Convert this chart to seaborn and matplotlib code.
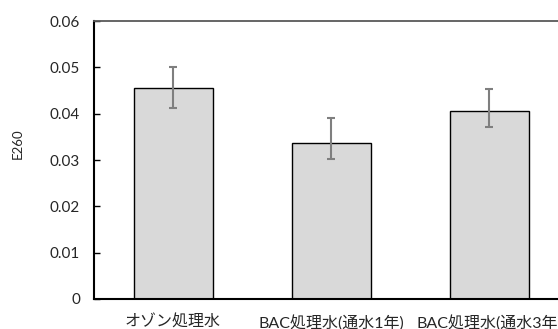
import matplotlib
matplotlib.use("Agg")
import matplotlib.pyplot as plt
import seaborn as sns
import pandas as pd
import numpy as np

categories = ["オゾン処理水", "BAC処理水(通水1年)", "BAC処理水(通水3年)"]
values = [0.0456, 0.0337, 0.0406]
err_low = [0.0043, 0.0035, 0.0034]
err_high = [0.0045, 0.0054, 0.0047]
y_ticks = [0, 0.01, 0.02, 0.03, 0.04, 0.05, 0.06]
y_tick_labels = ["0", "0.01", "0.02", "0.03", "0.04", "0.05", "0.06"]

sns.set_style("white")
plt.rcParams["font.family"] = ["Lato", "Noto Sans CJK JP", "DejaVu Sans"]

df = pd.DataFrame({"sample": categories, "E260": values})

fig = plt.figure(figsize=(5.58, 3.29), dpi=100)
ax = fig.add_axes([94 / 558, 1 - 299 / 329, 474 / 558, 278 / 329])

sns.barplot(data=df, x="sample", y="E260", order=categories, color="#d9d9d9",
            edgecolor="black", linewidth=1.0, width=0.5, errorbar=None,
            saturation=1, ax=ax)
ax.errorbar(np.arange(len(categories)), values, yerr=[err_low, err_high],
            fmt="none", ecolor="#7f7f7f", elinewidth=1.5, capsize=3,
            capthick=1.5, zorder=3)

ax.set_xlim(-0.5, 2.5)
ax.set_ylim(0, 0.06)
ax.set_yticks(y_ticks)
ax.set_yticklabels(y_tick_labels)
ax.tick_params(axis="y", direction="in", length=4, width=1, color="black",
               pad=10, labelsize=11, left=True)
ax.tick_params(axis="x", length=0, pad=11.5, labelsize=11.5)
ax.set_xlabel("")
ax.set_ylabel("")

for side in ("left", "bottom"):
    ax.spines[side].set_color("black")
    ax.spines[side].set_linewidth(1.5)
ax.spines["top"].set_color("#595959")
ax.spines["top"].set_linewidth(1.3)
ax.spines["right"].set_visible(False)

fig.text(18 / 558, 1 - 144 / 329, "E260", rotation=90, ha="center",
         va="center", fontsize=9.5)

fig.savefig("out.png", dpi=100)
